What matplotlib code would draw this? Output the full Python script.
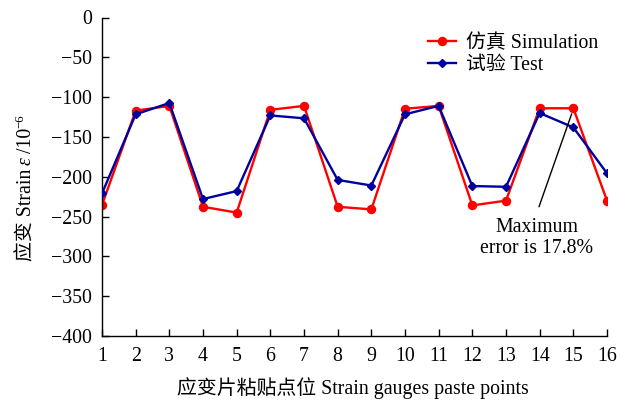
import matplotlib
matplotlib.use("Agg")
import matplotlib.pyplot as plt
from matplotlib.transforms import IdentityTransform

plt.rcParams['font.family'] = ['Liberation Serif', 'Noto Sans CJK SC', 'DejaVu Sans']
plt.rcParams['axes.unicode_minus'] = True

points = list(range(1, 17))
simulation = [-235.5, -117, -111, -237.7, -245, -116, -111, -237.7,
              -241, -114.6, -111, -236, -230, -114, -114, -230]
test = [-221, -121.6, -107.4, -228, -218, -123, -126.6, -204,
        -211, -121.6, -111, -211.7, -212.6, -120, -138, -195.7]
y_ticks = [0, -50, -100, -150, -200, -250, -300, -350, -400]

FS = 14.3
W, H = 631, 401

fig = plt.figure(figsize=(W / 100, H / 100), dpi=100)
ax = fig.add_axes([102 / W, 65 / H, 505 / W, 318.5 / H])

ax.plot(points, simulation, color='#ff0000', lw=1.7, marker='o', ms=5.8,
        label='仿真 Simulation', zorder=2)
ax.plot(points, test, color='#00009c', lw=1.7, marker='D', ms=4.3,
        label='试验 Test', zorder=3)

ax.set_xlim(1, 16)
ax.set_ylim(-400, 0)
ax.set_xticks(points)
ax.set_yticks(y_ticks)
ax.tick_params(direction='in', length=5, width=1, labelsize=FS)
ax.tick_params(axis='x', pad=8)
ax.tick_params(axis='y', pad=7)
for s in ['top', 'right']:
    ax.spines[s].set_visible(False)
for s in ['left', 'bottom']:
    ax.spines[s].set_linewidth(1)

# x axis title
fig.text(353 / W, 1 - 388 / H, '应变片粘贴点位 Strain gauges paste points',
         fontsize=FS, ha='center', va='center')

# y axis title, assembled piece by piece along a vertical baseline
renderer = fig.canvas.get_renderer()
pieces = [
    ('应变 Strain', dict(fontsize=FS), 0, 4),
    ('ε', dict(fontsize=FS, style='italic'), 0, 4),
    ('/10', dict(fontsize=FS), 0, 0),
    ('−6', dict(fontsize=FS * 0.65), -8, 0),
]
base_x = 31.0
texts = []
lengths = []
for s, kw, dx, gap in pieces:
    t = fig.text(0, 0, s, rotation=90, rotation_mode='anchor',
                 ha='left', va='baseline', transform=IdentityTransform(), **kw)
    bb = t.get_window_extent(renderer)
    texts.append(t)
    lengths.append(bb.height + gap)
total = sum(lengths)
y = (H - 187.5) - total / 2
for (s, kw, dx, gap), t, ln in zip(pieces, texts, lengths):
    t.set_position((base_x + dx, y))
    y += ln

# annotation of the largest deviation
ax.annotate('', xy=(14.95, -121), xytext=(13.98, -237.7),
            arrowprops=dict(arrowstyle='-', color='black', lw=1,
                            shrinkA=0, shrinkB=0))
ax.text(13.92, -277, 'Maximum\nerror is 17.8%', ha='center', va='center',
        fontsize=FS, linespacing=1.1)

ax.legend(loc='upper left', bbox_to_anchor=(420 / W, 1 - 26 / H),
          bbox_transform=fig.transFigure, borderaxespad=0, frameon=False,
          fontsize=FS, handlelength=1.4, handletextpad=0.5, labelspacing=0.15)

fig.savefig('out.png', dpi=100)
